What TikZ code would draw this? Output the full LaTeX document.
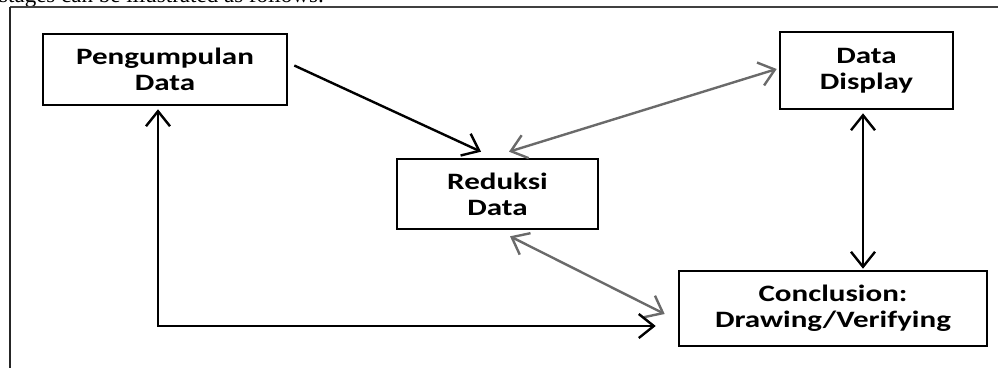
\documentclass[tikz,border=0pt]{standalone}
\usepackage{fontspec}
\setmainfont{Liberation Serif}
\newfontfamily\boxfont[FakeStretch=1.32]{Carlito}
\newfontfamily\leadfont[Scale=2.3]{Liberation Serif}
\usetikzlibrary{arrows.meta}
\definecolor{linegray}{HTML}{6A6A6A}
\tikzset{
  x=1pt, y=-1pt,
  >={Straight Barb[length=15pt, width=24pt]},
  stagebox/.style={draw=black, line width=2.6pt, inner sep=0pt, align=center,
    font=\boxfont\bfseries\fontsize{23.5}{26}\selectfont},
  blackflow/.style={draw=black, line width=2.4pt},
  grayflow/.style={draw=linegray, line width=2.4pt},
}
\begin{document}
\begin{tikzpicture}
\useasboundingbox (0,0) rectangle (998,368);
\clip (0,0) rectangle (998,368);

% tail of the preceding sentence, cut by the page edge
\node[anchor=base west, inner sep=0pt, font=\leadfont] (lead) at (-1,2.5)
  {stages can be illustrated as follows:};

% frame
\coordinate (ftl) at (10,7);
\coordinate (ftr) at (998,7);
\coordinate (fbl) at (10,368);
\draw[line width=1.2pt, draw=black!75] (ftl) -- (ftr);
\draw[line width=2pt, draw=black!85] (ftl) -- (fbl);

% stages
\node[stagebox, minimum width=244pt, minimum height=71pt] (peng) at (165,69.5) {Pengumpulan\\Data};
\node[stagebox, minimum width=173pt, minimum height=77pt] (disp) at (866.5,70.5) {Data\\Display};
\node[stagebox, minimum width=201pt, minimum height=70pt] (red) at (497.5,194) {Reduksi\\Data};
\node[stagebox, minimum width=308pt, minimum height=75pt] (conc) at (833,308.5) {Conclusion:\\Drawing/Verifying};

% flows
\draw[blackflow, ->]
  ([shift={(6,-4)}]peng.east) -- ([shift={(-16.5,-6)}]red.north);
\draw[grayflow, <->]
  ([shift={(11.5,-6)}]red.north) -- ([shift={(-2,-1.5)}]disp.west);
\draw[blackflow, <->]
  ([shift={(-3.5,3)}]disp.south) -- ([shift={(30,-1)}]conc.north);
\draw[grayflow, <->]
  ([shift={(12.5,6)}]red.south) -- ([shift={(-13,5.5)}]conc.west);
\draw[blackflow, <->]
  ([shift={(-7,3)}]peng.south) |- ([shift={(-22,17.5)}]conc.west);
\end{tikzpicture}
\end{document}
